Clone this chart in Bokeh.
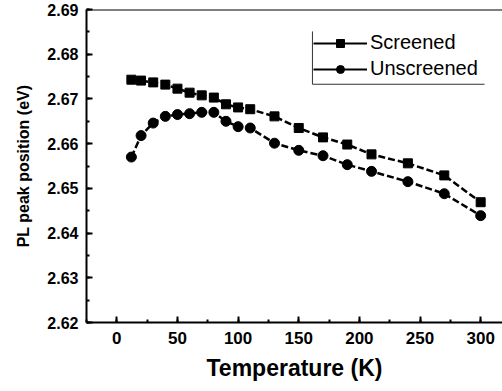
from bokeh.plotting import figure
from bokeh.models import (Range1d, Span, SingleIntervalTicker, Legend,
                          LegendItem, ColumnDataSource)
from bokeh.embed import file_html
from bokeh.resources import INLINE

# ---- data ----
temperature = [12, 20, 30, 40, 50, 60, 70, 80, 90, 100, 110, 130, 150, 170, 190, 210, 240, 270, 300]
screened = [2.6743, 2.6741, 2.6737, 2.6732, 2.6723, 2.6714, 2.6708, 2.6703, 2.6688, 2.6681,
            2.6677, 2.6661, 2.6635, 2.6614, 2.6598, 2.6576, 2.6556, 2.6529, 2.6469]
unscreened = [2.6570, 2.6618, 2.6646, 2.6661, 2.6665, 2.6667, 2.6670, 2.6670, 2.6650, 2.6638,
              2.6635, 2.6601, 2.6585, 2.6573, 2.6553, 2.6538, 2.6515, 2.6488, 2.6439]
series_names = ["Screened", "Unscreened"]
x_label = "Temperature (K)"
y_label = "PL peak position (eV)"
y_top = 2.69

FONT = "Liberation Sans"

p = figure(width=502, height=391, output_backend="svg", toolbar_location=None,
           x_range=Range1d(-25, 318), y_range=Range1d(2.62, y_top),
           min_border_left=86, min_border_right=0, min_border_top=9, min_border_bottom=69)
p.outline_line_color = None
p.xgrid.visible = False
p.ygrid.visible = False
p.background_fill_color = "white"
p.border_fill_color = "white"

p.extra_y_ranges = {"legend_only": Range1d(100, 101)}

for ax in (p.xaxis[0], p.yaxis[0]):
    ax.axis_line_width = 2
    ax.axis_line_color = "black"
    ax.major_tick_in = 6
    ax.major_tick_out = 0
    ax.minor_tick_in = 3
    ax.minor_tick_out = 0
    ax.major_tick_line_width = 2
    ax.minor_tick_line_width = 2
    ax.major_label_text_font = FONT
    ax.major_label_text_font_style = "bold"
    ax.major_label_text_color = "black"
    ax.axis_label_text_font = FONT
    ax.axis_label_text_font_style = "bold"
    ax.axis_label_text_color = "black"

p.xaxis.ticker = SingleIntervalTicker(interval=50, num_minor_ticks=2)
p.yaxis.ticker = SingleIntervalTicker(interval=0.01, num_minor_ticks=2)
p.xaxis.major_label_text_font_size = "17px"
p.yaxis.major_label_text_font_size = "16px"
p.xaxis.major_label_standoff = 9
p.yaxis.major_label_standoff = 8
p.xaxis.axis_label = x_label
p.yaxis.axis_label = y_label
p.xaxis.axis_label_text_font_size = "23px"
p.yaxis.axis_label_text_font_size = "16px"
p.xaxis.axis_label_standoff = 8
p.yaxis.axis_label_standoff = 12

# top frame line
p.add_layout(Span(location=y_top, dimension="width", line_color="black", line_width=2))

src = ColumnDataSource(dict(t=temperature, s=screened, u=unscreened))

p.line("t", "s", source=src, line_color="black", line_width=2.5, line_dash="7 3")
p.line("t", "u", source=src, line_color="black", line_width=2.5, line_dash="7 3")
sq = p.scatter("t", "s", source=src, marker="square", size=9, fill_color="black", line_color="black")
ci = p.scatter("t", "u", source=src, marker="circle", size=10, fill_color="black", line_color="black")

# solid lines for the legend glyphs (their data lies outside the visible range)
l1 = p.line("t", "s", source=src, y_range_name="legend_only", line_color="black", line_width=2)
l2 = p.line("t", "u", source=src, y_range_name="legend_only", line_color="black", line_width=2)

legend = Legend(items=[LegendItem(label=series_names[0], renderers=[l1, sq]),
                       LegendItem(label=series_names[1], renderers=[l2, ci])],
                location=(227, 242), padding=0, margin=0, spacing=3,
                glyph_width=54, glyph_height=20, label_height=20, label_standoff=3,
                label_text_font=FONT, label_text_font_size="20px", label_text_color="black",
                border_line_color=None, background_fill_alpha=0)
p.add_layout(legend, "center")

# legend frame (left and bottom edges)
legend_box_x = [161.3, 161.3, 303.2]
legend_box_y = [2.6851, 2.67328, 2.67328]
p.line(legend_box_x, legend_box_y, line_color="#333333", line_width=1)

html = file_html(p, INLINE)
html = html.replace("<head>", "<head><style>html,body{margin:0;padding:0;overflow:hidden;}</style>", 1)
open("out.html", "w").write(html)
